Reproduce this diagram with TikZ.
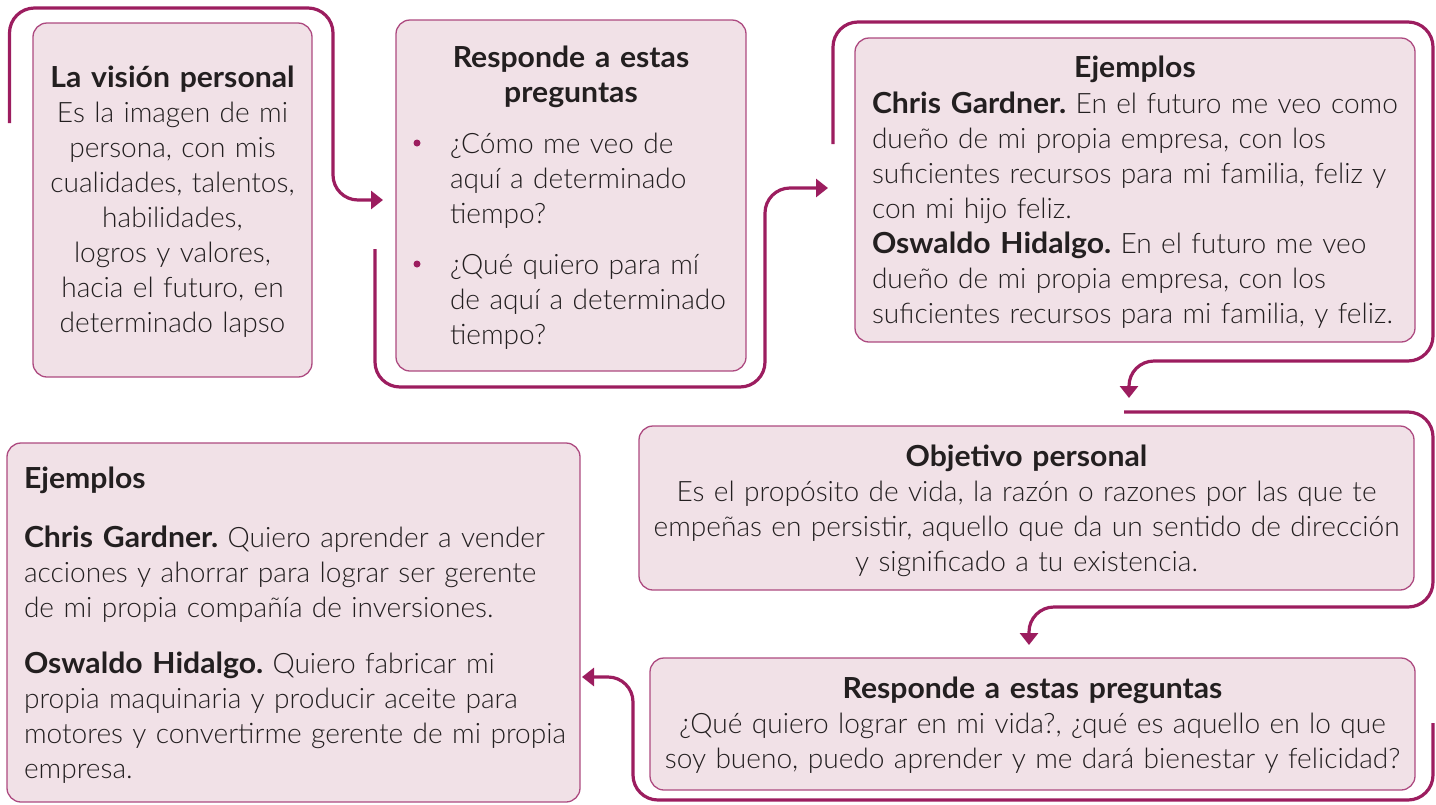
\documentclass[tikz,border=0pt]{standalone}
\usepackage{fontspec}
\usepackage{graphicx}
\IfFontExistsTF{Lato Light}{\setmainfont{Lato Light}[BoldFont={Lato Bold}]}{\setmainfont{Lato}}
\usetikzlibrary{arrows.meta}
\definecolor{conncol}{HTML}{9C1D5F}
\definecolor{boxline}{HTML}{AD4A80}
\definecolor{boxfill}{HTML}{F1E1E7}
\definecolor{textcol}{HTML}{231F20}
\newcommand\hd[1]{\scalebox{1.04}[1]{\fontsize{29}{35}\selectfont\bfseries #1}}
\frenchspacing
\begin{document}
\begin{tikzpicture}[x=1pt,y=-1pt,
  box/.style={draw=boxline,fill=boxfill,line width=1.3pt,rounded corners=14pt,inner sep=0pt,outer sep=0pt},
  txt/.style={font=\fontsize{28.1}{35}\selectfont,text=textcol,inner sep=0pt,outer sep=0pt},
  conn/.style={draw=conncol,line width=3.2pt,rounded corners=25pt,-{Triangle[length=12pt,width=18pt]}},
  bullet/.style={fill=conncol}
]
\useasboundingbox (0,0) rectangle (1436,804);

% boxes
\node[box,minimum width=279pt,minimum height=354pt] (b1) at (172.5,200) {};
\node[box,minimum width=350pt,minimum height=351pt] (b2) at (571,195.5) {};
\node[box,minimum width=560pt,minimum height=304pt] (b3) at (1135,190) {};
\node[box,minimum width=775pt,minimum height=164pt] (b4) at (1026.5,508) {};
\node[box,minimum width=765pt,minimum height=132pt] (b5) at (1032.5,724) {};
\node[box,minimum width=573pt,minimum height=359pt] (b6) at (293.5,622.5) {};

% texts
\node[txt,text width=320pt,align=center,anchor=base] (t1) at (172.5,87)
 {\hd{La visión personal}\\Es la imagen de mi\\persona, con mis\\cualidades, talentos,\\habilidades,\\logros y valores,\\hacia el futuro, en\\determinado lapso};

\node[txt,text width=340pt,align=center,anchor=base] (h2) at (571,67)
 {\hd{Responde a estas}\\\hd{preguntas}};
\node[txt,text width=300pt,align=left,anchor=base west] (t2) at (450,153)
 {¿Cómo me veo de\\aquí a determinado\\tiempo?\\[16pt]¿Qué quiero para mí\\de aquí a determinado\\tiempo?};
\fill[bullet] (417,143) circle (3.5pt);
\fill[bullet] (417,264) circle (3.5pt);

\node[txt,text width=300pt,align=center,anchor=base] (h3) at (1135,77) {\hd{Ejemplos}};
\node[txt,text width=600pt,align=left,anchor=base west] (t3) at (872,113)
 {\hd{Chris Gardner.} En el futuro me veo como\\dueño de mi propia empresa, con los\\suficientes recursos para mi familia, feliz y\\con mi hijo feliz.\\\hd{Oswaldo Hidalgo.} En el futuro me veo\\dueño de mi propia empresa, con los\\suficientes recursos para mi familia, y feliz.};

\node[txt,text width=800pt,align=center,anchor=base] (t4) at (1026.5,466)
 {\hd{Objetivo personal}\\Es el propósito de vida, la razón o razones por las que te\\empeñas en persistir, aquello que da un sentido de dirección\\y significado a tu existencia.};

\node[txt,text width=800pt,align=center,anchor=base] (t5) at (1032.5,698)
 {\hd{Responde a estas preguntas}\\¿Qué quiero lograr en mi vida?, ¿qué es aquello en lo que\\soy bueno, puedo aprender y me dará bienestar y felicidad?};

\node[txt,text width=600pt,align=left,anchor=base west] (t6) at (24,488)
 {\hd{Ejemplos}\\[24pt]\hd{Chris Gardner.} Quiero aprender a vender\\acciones y ahorrar para lograr ser gerente\\de mi propia compañía de inversiones.\\[21pt]\hd{Oswaldo Hidalgo.} Quiero fabricar mi\\propia maquinaria y producir aceite para\\motores y convertirme gerente de mi propia\\empresa.};

% connectors
\coordinate (s1) at (9.5,123);   \coordinate (e1) at (383,200);
\coordinate (s2) at (375,249);   \coordinate (e2) at (828,188);
\coordinate (s3) at (833,144);   \coordinate (e3) at (1129,398);
\coordinate (s4) at (1124,412);  \coordinate (e4) at (1029,645);
\coordinate (s5) at (1433,723);  \coordinate (e5) at (582,677);

\draw[conn] (s1) -- (9.5,8) -- (333,8) -- (333,200) -- (e1);
\draw[conn] (s2) -- (375,387) -- (765,387) -- (765,188) -- (e2);
\draw[conn] (s3) -- (833,22) -- (1433,22) -- (1433,361) -- (1129,361) [rounded corners=18pt] -- (e3);
\draw[conn] (s4) -- (1433,412) -- (1433,607) -- (1029,607) [rounded corners=18pt] -- (e4);
\draw[conn] (s5) -- (1433,800) -- (633,800) -- (633,677) -- (e5);
\end{tikzpicture}
\end{document}
